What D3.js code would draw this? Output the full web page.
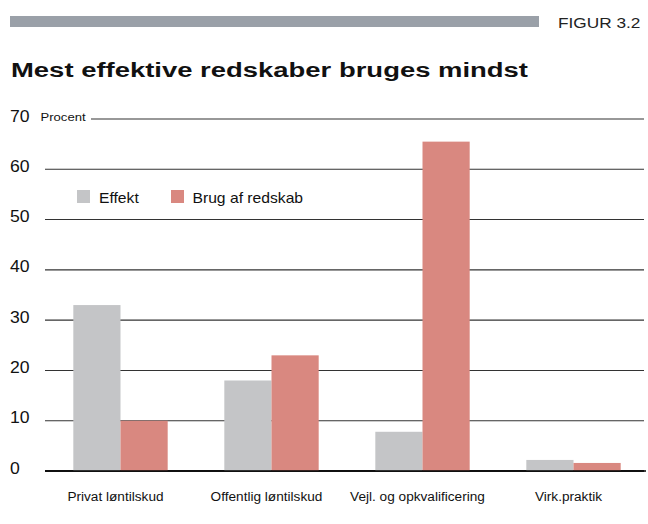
<!DOCTYPE html>
<html><head><meta charset="utf-8">
<script src="https://cdn.jsdelivr.net/npm/d3@7"></script>
<style>body{margin:0;background:#fff;} text{font-family:"Liberation Sans",Arial,sans-serif;}</style>
</head><body>
<svg id="c" width="648" height="524"></svg>
<script>
const categories = ["Privat løntilskud","Offentlig løntilskud","Vejl. og opkvalificering","Virk.praktik"];
const effekt = [33, 18, 7.8, 2.2];
const brug = [10, 23, 65.5, 1.6];
const seriesNames = ["Effekt","Brug af redskab"];
const yTicks = [0,10,20,30,40,50,60,70];
const colors = ["#c4c5c7","#d98880"];

const svg = d3.select("#c");
function stretch(sel, k){ sel.each(function(){ const w=this.getComputedTextLength(); d3.select(this).attr("textLength",w*k).attr("lengthAdjust","spacingAndGlyphs"); }); return sel; }

// header bar
svg.append("rect").attr("x",10).attr("y",16).attr("width",529).attr("height",11).attr("fill","#9aa0a8");
stretch(svg.append("text").attr("x",558).attr("y",27.5).attr("font-size",15).attr("fill","#222").text("FIGUR 3.2"),1.15);
const title = svg.append("text").attr("x",11).attr("y",76.5).attr("font-size",19.5).attr("font-weight","bold").attr("fill","#111").text("Mest effektive redskaber bruges mindst");
title.attr("textLength",517).attr("lengthAdjust","spacingAndGlyphs");

const gx0 = 45, gx1 = 644;
const y = d3.scaleLinear().domain([0,70]).range([471,119]);
const xb = d3.scaleBand().domain(categories).range([45,649]).paddingInner(0.375).paddingOuter(0.1875);
const xs = d3.scaleBand().domain(seriesNames).range([0,xb.bandwidth()]);

// gridlines + tick labels
const g = svg.append("g");
yTicks.forEach(t=>{
  g.append("line").attr("x1", t===70?91:gx0).attr("x2",gx1)
   .attr("y1",y(t)).attr("y2",y(t))
   .attr("stroke", t===0?"#000":"#333").attr("stroke-width",t===0?1.4:1.1);
  stretch(g.append("text").attr("x",10).attr("y",y(t)+2.5).attr("font-size",16).attr("fill","#111").text(t),1.1);
});
stretch(svg.append("text").attr("x",40.5).attr("y",120.7).attr("font-size",11.7).attr("fill","#111").text("Procent"),1.12);

// bars
const data = categories.map((c,i)=>({c, vals:[effekt[i],brug[i]]}));
const grp = svg.append("g").selectAll("g").data(data).join("g").attr("transform",d=>`translate(${xb(d.c)},0)`);
grp.selectAll("rect").data(d=>d.vals.map((v,j)=>({v,s:seriesNames[j],j})))
  .join("rect").attr("x",d=>xs(d.s)).attr("width",xs.bandwidth())
  .attr("y",d=>y(d.v)).attr("height",d=>y(0)-y(d.v)).attr("fill",d=>colors[d.j]);
svg.append("line").attr("x1",gx0).attr("x2",gx1+2).attr("y1",y(0)).attr("y2",y(0)).attr("stroke","#000").attr("stroke-width",1.4);

// category labels
stretch(svg.append("g").selectAll("text").data(categories).join("text")
  .attr("x",d=>xb(d)+xb.bandwidth()/2-5).attr("y",500.7).attr("text-anchor","middle")
  .attr("font-size",12.5).attr("fill","#111").text(d=>d),1.09);

// legend
const leg = [{x:77,tx:99},{x:171,tx:192.5}];
seriesNames.forEach((s,i)=>{
  svg.append("rect").attr("x",leg[i].x).attr("y",190).attr("width",13).attr("height",13).attr("fill",colors[i]);
  stretch(svg.append("text").attr("x",leg[i].tx).attr("y",202.7).attr("font-size",14.5).attr("fill","#111").text(s),1.08);
});
</script>
</body></html>
